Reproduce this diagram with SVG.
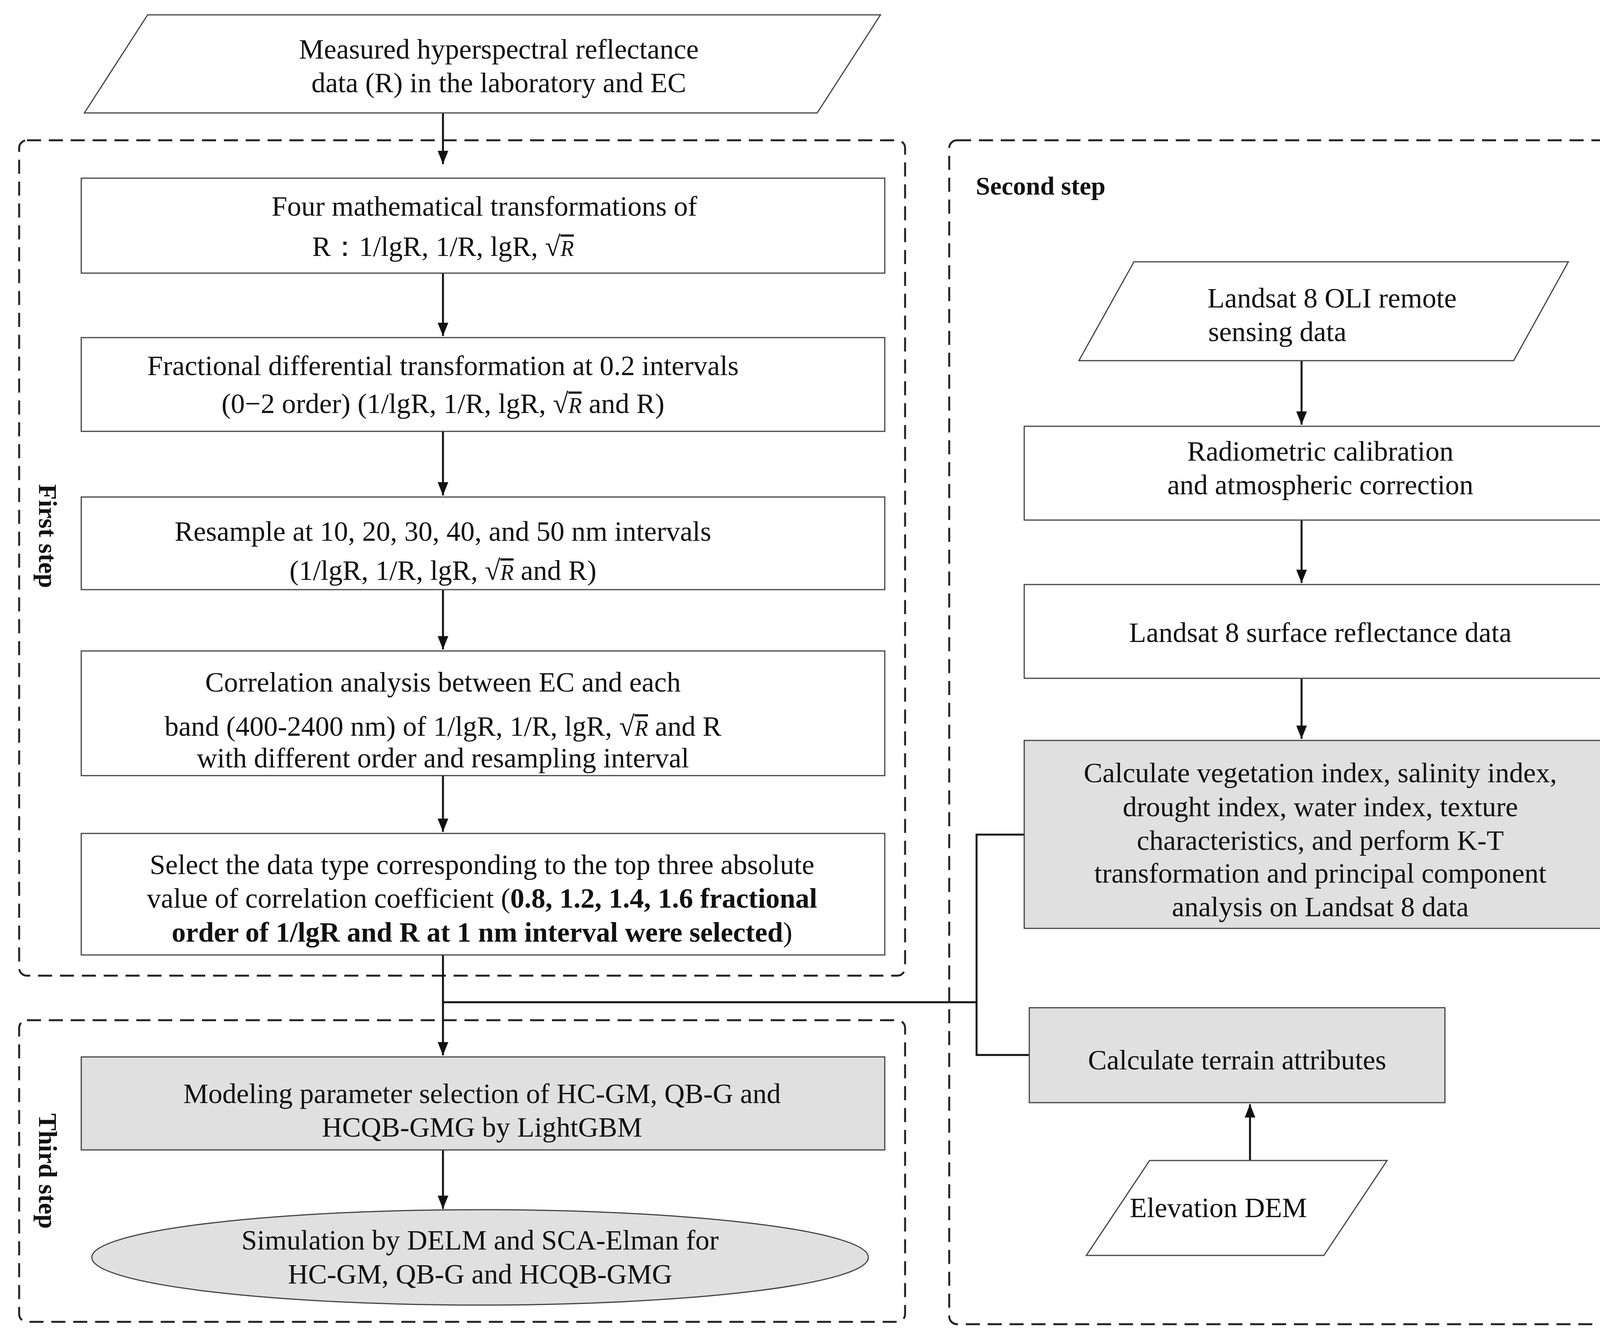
<svg xmlns="http://www.w3.org/2000/svg" width="4232" height="3432" viewBox="0 0 4232 3432">
<style>
text{font-family:"Liberation Serif","Times New Roman",serif;font-size:72px;fill:#111;text-anchor:middle}
.b{font-weight:bold}
.lbl{font-weight:bold;font-size:66px}
.box{fill:#fff;stroke:#444;stroke-width:3}
.g{fill:#e0e0e0;stroke:#444;stroke-width:3}
.dash{fill:none;stroke:#222;stroke-width:5;stroke-dasharray:36,20}
.ln{fill:none;stroke:#111;stroke-width:5}
.sq{text-decoration:overline;font-style:italic;font-size:56px}
</style>
<defs>
<marker id="a" viewBox="0 0 10 10" refX="10" refY="5" markerWidth="34" markerHeight="34" markerUnits="userSpaceOnUse" orient="auto"><path d="M0,1 L10,5 L0,9 z" fill="#111"/></marker></defs>
<g id="frames">
<rect class="dash" x="49" y="359" width="2268" height="2138" rx="20"/>
<rect class="dash" x="2430" y="359" width="1763" height="3030" rx="20"/>
<rect class="dash" x="49" y="2611" width="2268" height="772" rx="20"/>
<text class="lbl" transform="translate(100,1372) rotate(90)">First step</text>
<text class="lbl" transform="translate(100,2997) rotate(90)">Third step</text>
<text class="lbl" x="2498" y="498" style="text-anchor:start">Second step</text>
</g>
<g id="connectors">
<path class="ln" d="M1134,289 V420" marker-end="url(#a)"/>
<path class="ln" d="M1134,699 V860" marker-end="url(#a)"/>
<path class="ln" d="M1134,1104 V1268" marker-end="url(#a)"/>
<path class="ln" d="M1134,1509 V1662" marker-end="url(#a)"/>
<path class="ln" d="M1134,1985 V2129" marker-end="url(#a)"/>
<path class="ln" d="M1134,2444 V2701" marker-end="url(#a)"/>
<path class="ln" d="M1134,2943 V3094" marker-end="url(#a)"/>
<path class="ln" d="M1134,2565 H2500 M2622,2136 H2500 V2700 H2635"/>
<path class="ln" d="M3332,923 V1087" marker-end="url(#a)"/>
<path class="ln" d="M3332,1331 V1492" marker-end="url(#a)"/>
<path class="ln" d="M3332,1736 V1891" marker-end="url(#a)"/>
<path class="ln" d="M3200,2970 V2826" marker-end="url(#a)"/>
</g>
<g id="n1"><polygon class="box" points="378,38 2254,38 2092,289 216,289"/>
<text x="1277" y="150">Measured hyperspectral reflectance</text><text x="1277" y="236">data (R) in the laboratory and EC</text></g>
<g id="n2"><rect class="box" x="208" y="456" width="2057" height="243"/>
<text x="1240" y="552">Four mathematical transformations of</text><text x="1134" y="655">R：1/lgR, 1/R, lgR, √<tspan class="sq">R</tspan></text></g>
<g id="n3"><rect class="box" x="208" y="864" width="2057" height="240"/>
<text x="1134" y="960">Fractional differential transformation at 0.2 intervals</text><text x="1134" y="1057">(0−2 order) (1/lgR, 1/R, lgR, √<tspan class="sq">R</tspan>  and R)</text></g>
<g id="n4"><rect class="box" x="208" y="1272" width="2057" height="237"/>
<text x="1134" y="1384">Resample at 10, 20, 30, 40, and 50 nm intervals</text><text x="1134" y="1484">(1/lgR, 1/R, lgR, √<tspan class="sq">R</tspan>  and R)</text></g>
<g id="n5"><rect class="box" x="208" y="1666" width="2057" height="319"/>
<text x="1134" y="1770">Correlation analysis between EC and each</text><text x="1134" y="1883">band (400-2400 nm) of 1/lgR, 1/R, lgR, √<tspan class="sq">R</tspan>  and R</text><text x="1134" y="1964">with different order and resampling interval</text></g>
<g id="n6"><rect class="box" x="208" y="2133" width="2057" height="311"/>
<text x="1234" y="2237">Select the data type corresponding to the top three absolute</text><text x="1234" y="2323">value of correlation coefficient (<tspan class="b">0.8, 1.2, 1.4, 1.6 fractional</tspan></text><text x="1234" y="2410"><tspan class="b">order of 1/lgR and R at 1 nm interval were selected</tspan>)</text></g>
<g id="n7"><rect class="g" x="208" y="2705" width="2057" height="238"/>
<text x="1234" y="2823">Modeling parameter selection of HC-GM, QB-G and</text><text x="1234" y="2909">HCQB-GMG by LightGBM</text></g>
<g id="n8"><ellipse class="g" cx="1229" cy="3218" rx="994" ry="122"/>
<text x="1229" y="3198">Simulation by DELM and SCA-Elman for</text><text x="1229" y="3285">HC-GM, QB-G and HCQB-GMG</text></g>
<g id="n9"><polygon class="box" points="2903,670 4015,670 3875,923 2762,923"/>
<text x="3410" y="787">Landsat 8 OLI remote</text><text x="3270" y="873">sensing data</text></g>
<g id="n10"><rect class="box" x="2622" y="1091" width="1517" height="240"/>
<text x="3380" y="1179">Radiometric calibration</text><text x="3380" y="1265">and atmospheric correction</text></g>
<g id="n11"><rect class="box" x="2622" y="1496" width="1517" height="240"/>
<text x="3380" y="1643">Landsat 8 surface reflectance data</text></g>
<g id="n12"><rect class="g" x="2622" y="1895" width="1517" height="481"/>
<text x="3380" y="2002">Calculate vegetation index, salinity index,</text><text x="3380" y="2089">drought index, water index, texture</text><text x="3380" y="2175">characteristics, and perform K-T</text><text x="3380" y="2259">transformation and principal component</text><text x="3380" y="2345">analysis on Landsat 8 data</text></g>
<g id="n13"><rect class="g" x="2635" y="2579" width="1064" height="243"/>
<text x="3167" y="2737">Calculate terrain attributes</text></g>
<g id="n14"><polygon class="box" points="2943,2970 3551,2970 3389,3213 2781,3213"/>
<text x="3119" y="3115">Elevation DEM</text></g>
</svg>
